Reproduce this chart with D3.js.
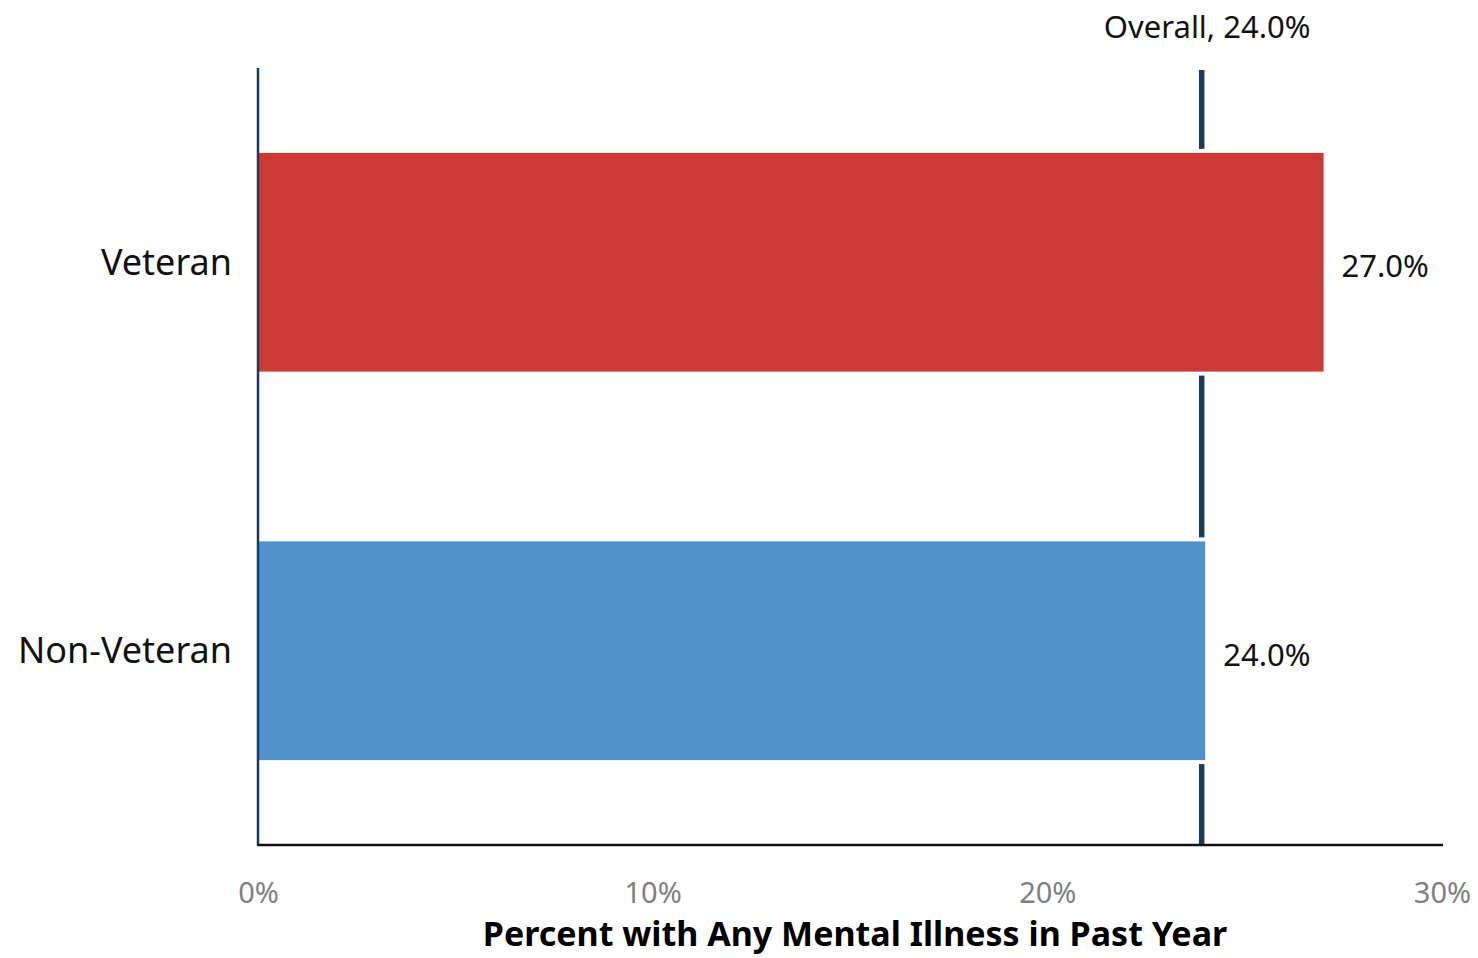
<!DOCTYPE html>
<html><head><meta charset="utf-8">
<script src="https://cdn.jsdelivr.net/npm/d3@7"></script>
<style>body{margin:0;background:#fff}svg{display:block}text{font-family:"Noto Sans","Open Sans",sans-serif}</style>
</head><body>
<svg id="c" width="1478" height="958"></svg>
<script>
const categories = ["Veteran", "Non-Veteran"];
const values = [27.0, 24.0];
const colors = ["#CC3A36", "#5092CC"];
const overallValue = 24.0;
const overallLabel = "Overall, 24.0%";
const xTicks = [0, 10, 20, 30];
const xTitle = "Percent with Any Mental Illness in Past Year";

const svg = d3.select("#c");
const mLeft = 258, mRight = 1442, mTop = 68, mBottom = 845;
const x = d3.scaleLinear().domain([0, 30]).range([mLeft, mRight]);
const y = d3.scaleBand().domain(categories).range([mTop, mBottom]).paddingInner(0.437).paddingOuter(0.2185);

// overall line
svg.append("line").attr("x1", x(overallValue) - 3.5).attr("x2", x(overallValue) - 3.5)
  .attr("y1", mTop + 2).attr("y2", mBottom).attr("stroke", "#1F3A56").attr("stroke-width", 5.5);

// halo rects
svg.selectAll("rect.halo").data(categories).join("rect").attr("class", "halo")
  .attr("x", x(0)).attr("y", d => y(d) - 4)
  .attr("width", (d, i) => x(values[i]) - x(0) + 4).attr("height", y.bandwidth() + 8)
  .attr("fill", "#fff");
svg.selectAll("rect.bar").data(categories).join("rect").attr("class", "bar")
  .attr("x", x(0)).attr("y", d => y(d))
  .attr("width", (d, i) => x(values[i]) - x(0)).attr("height", y.bandwidth())
  .attr("fill", (d, i) => colors[i]);

// axes lines
svg.append("line").attr("x1", mLeft).attr("x2", mLeft).attr("y1", mTop).attr("y2", mBottom)
  .attr("stroke", "#1F3A56").attr("stroke-width", 2.5);
svg.append("line").attr("x1", mLeft - 1).attr("x2", mRight + 1).attr("y1", mBottom).attr("y2", mBottom)
  .attr("stroke", "#111").attr("stroke-width", 2.5);

// x ticks
const xa = svg.append("g").attr("transform", `translate(0,${mBottom})`)
  .call(d3.axisBottom(x).tickValues(xTicks).tickFormat(d => d + "%").tickSize(0).tickPadding(37));
xa.select(".domain").remove();
xa.selectAll("text").attr("font-size", 29).attr("fill", "#808080").attr("font-family", '"Noto Sans",sans-serif');

// category labels
svg.selectAll("text.cat").data(categories).join("text").attr("class", "cat")
  .attr("x", 232).attr("y", d => y(d) + y.bandwidth() / 2).attr("dy", "0.35em")
  .attr("text-anchor", "end").attr("font-size", 36).attr("fill", "#111").text(d => d);

// value labels
svg.selectAll("text.val").data(categories).join("text").attr("class", "val")
  .attr("x", (d, i) => x(values[i]) + 18).attr("y", d => y(d) + y.bandwidth() / 2 + 4).attr("dy", "0.35em")
  .attr("font-size", 31).attr("fill", "#111").text((d, i) => values[i].toFixed(1) + "%");

// overall label
svg.append("text").attr("x", x(overallValue) + 2).attr("y", 38).attr("text-anchor", "middle")
  .attr("font-size", 31).attr("fill", "#111").text(overallLabel);

// axis title
svg.append("text").attr("x", (mLeft + mRight) / 2 + 5).attr("y", 946).attr("text-anchor", "middle")
  .attr("font-size", 34).attr("font-weight", "bold").attr("fill", "#000").text(xTitle);
</script>
</body></html>
